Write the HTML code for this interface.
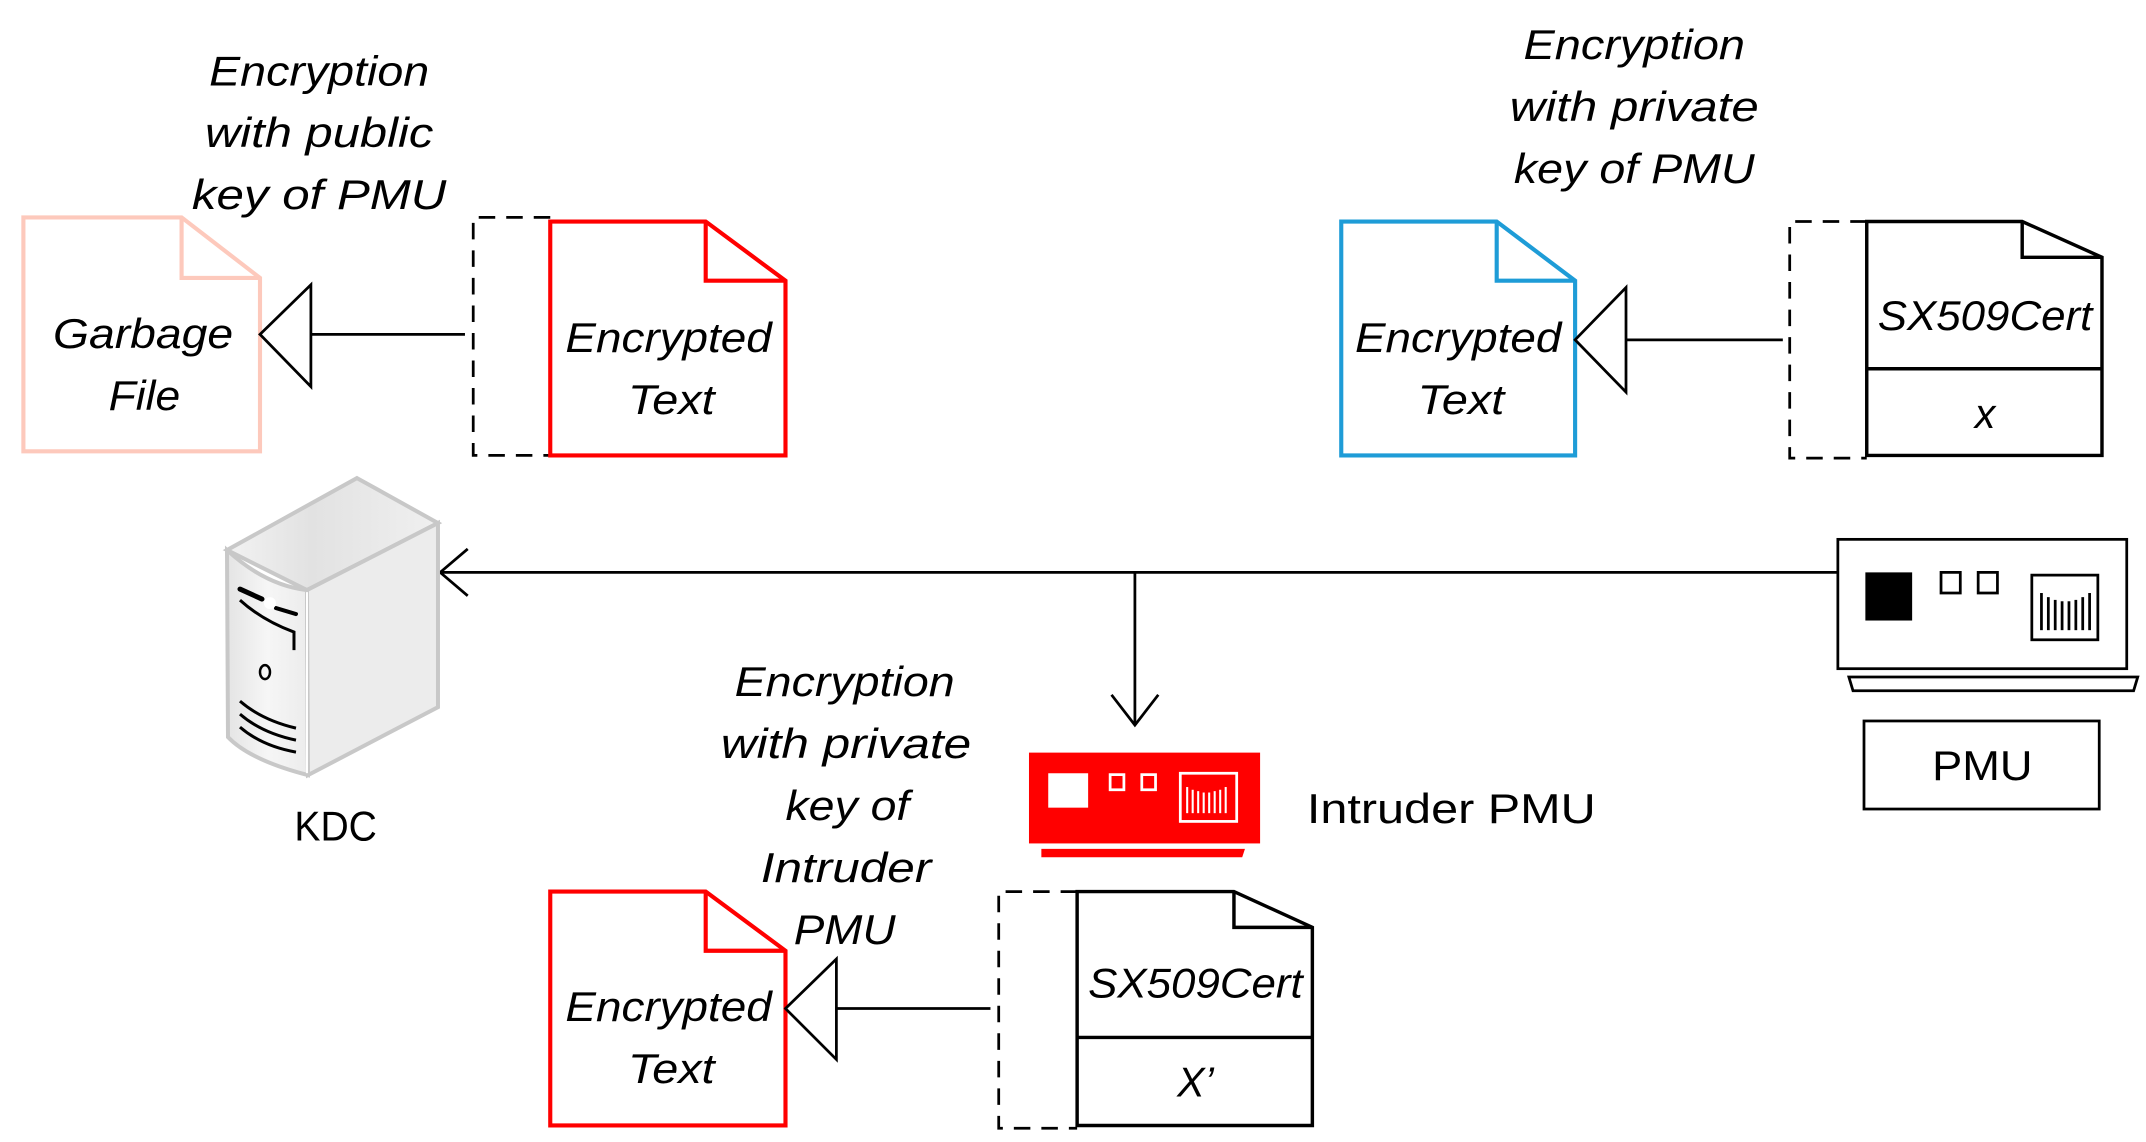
<!DOCTYPE html>
<html><head><meta charset="utf-8"><style>
html,body{margin:0;padding:0;background:#fff;}
svg{display:block;}
text{font-family:"Liberation Sans",sans-serif;font-size:30px;fill:#000;}
.i{font-style:italic;}
</style></head><body>
<svg width="2146" height="1142" viewBox="0 0 1560 830" preserveAspectRatio="none" xmlns="http://www.w3.org/2000/svg">
<defs>
<linearGradient id="g1" x1="0" y1="0" x2="1" y2="0"><stop offset="0" stop-color="#e4e4e4"/><stop offset="0.5" stop-color="#f6f6f6"/><stop offset="1" stop-color="#ececec"/></linearGradient>
<linearGradient id="g2" x1="0" y1="0" x2="1" y2="0"><stop offset="0" stop-color="#f2f2f2"/><stop offset="0.4" stop-color="#e2e2e2"/><stop offset="1" stop-color="#f0f0f0"/></linearGradient>
</defs>

<!-- Top-left labels -->
<g class="i" text-anchor="middle">
<text x="232" y="62" textLength="160" lengthAdjust="spacingAndGlyphs">Encryption</text>
<text x="232" y="107" textLength="166" lengthAdjust="spacingAndGlyphs">with public</text>
<text x="232" y="152" textLength="185" lengthAdjust="spacingAndGlyphs">key of  PMU</text>
</g>
<!-- Garbage file -->
<path d="M17,158 H132 L189,202 V328 H17 Z" fill="#fff" stroke="#fdc9bc" stroke-width="3"/>
<path d="M132,158 V202 H189" fill="none" stroke="#fdc9bc" stroke-width="3"/>
<text class="i" x="104" y="253" text-anchor="middle" textLength="131" lengthAdjust="spacingAndGlyphs">Garbage</text>
<text class="i" x="105" y="298" text-anchor="middle" textLength="52" lengthAdjust="spacingAndGlyphs">File</text>
<!-- arrow -->
<line x1="338" y1="243" x2="226" y2="243" stroke="#000" stroke-width="2"/>
<path d="M189,243 L226,207 V281 Z" fill="#fff" stroke="#000" stroke-width="2"/>
<!-- dashed bracket -->
<path d="M400,158 H344 V331 H400" fill="none" stroke="#000" stroke-width="2" stroke-dasharray="12,8"/>
<!-- Encrypted red -->
<path d="M400,161 H513 L571,204 V331 H400 Z" fill="#fff" stroke="#ff0000" stroke-width="3"/>
<path d="M513,161 V204 H571" fill="none" stroke="#ff0000" stroke-width="3"/>
<text class="i" x="486" y="256" text-anchor="middle" textLength="150" lengthAdjust="spacingAndGlyphs">Encrypted</text>
<text class="i" x="488" y="301" text-anchor="middle" textLength="63" lengthAdjust="spacingAndGlyphs">Text</text>

<!-- Top-right labels -->
<g class="i" text-anchor="middle">
<text x="1188" y="43" textLength="161" lengthAdjust="spacingAndGlyphs">Encryption</text>
<text x="1188" y="88" textLength="181" lengthAdjust="spacingAndGlyphs">with private</text>
<text x="1188" y="133" textLength="175" lengthAdjust="spacingAndGlyphs">key of PMU</text>
</g>
<path d="M975,161 H1088 L1145,204 V331 H975 Z" fill="#fff" stroke="#1e9cd7" stroke-width="3"/>
<path d="M1088,161 V204 H1145" fill="none" stroke="#1e9cd7" stroke-width="3"/>
<text class="i" x="1060" y="256" text-anchor="middle" textLength="150" lengthAdjust="spacingAndGlyphs">Encrypted</text>
<text class="i" x="1062" y="301" text-anchor="middle" textLength="63" lengthAdjust="spacingAndGlyphs">Text</text>
<line x1="1296" y1="247" x2="1182" y2="247" stroke="#000" stroke-width="2"/>
<path d="M1145,247 L1182,209 V285 Z" fill="#fff" stroke="#000" stroke-width="2"/>
<path d="M1357,161 H1301 V333 H1357" fill="none" stroke="#000" stroke-width="2" stroke-dasharray="12,8"/>
<path d="M1357,161 H1470 L1528,187 V331 H1357 Z" fill="#fff" stroke="#000" stroke-width="2.5"/>
<path d="M1470,161 V187 H1528" fill="none" stroke="#000" stroke-width="2.5"/>
<line x1="1357" y1="268" x2="1528" y2="268" stroke="#000" stroke-width="2.5"/>
<text class="i" x="1443" y="240" text-anchor="middle" textLength="156" lengthAdjust="spacingAndGlyphs">SX509Cert</text>
<text class="i" x="1443" y="311" text-anchor="middle">x</text>

<!-- Main connector -->
<line x1="320" y1="416" x2="1336" y2="416" stroke="#000" stroke-width="2"/>
<path d="M340,399 L320,416 L340,433" fill="none" stroke="#000" stroke-width="2"/>
<line x1="825" y1="416" x2="825" y2="527" stroke="#000" stroke-width="2"/>
<path d="M808,505 L825,527 L842,505" fill="none" stroke="#000" stroke-width="2"/>

<!-- KDC server (real coords scaled) -->
<g transform="scale(0.72690)">
<path d="M357,478 L438,523 L307,590 L227,550 Z" fill="url(#g2)" stroke="#c8c8c8" stroke-width="4"/>
<path d="M227,550 Q265,585 307,590 L308,775 Q250,760 228,737 Z" fill="url(#g1)" stroke="#c8c8c8" stroke-width="4"/>
<path d="M307,590 L438,523 L438,707 L308,775 Z" fill="#ececec" stroke="#c8c8c8" stroke-width="4"/>
<line x1="307" y1="592" x2="307" y2="773" stroke="#fff" stroke-width="2"/>
<path d="M240,589 L262,599" stroke="#000" stroke-width="5" stroke-linecap="round"/>
<path d="M276,608 L296,614" stroke="#000" stroke-width="4" stroke-linecap="round"/>
<circle cx="270" cy="603" r="6" fill="#fff"/>
<path d="M240,600 Q262,620 294,632 V650" fill="none" stroke="#000" stroke-width="3"/>
<ellipse cx="265" cy="672" rx="5" ry="7" fill="none" stroke="#000" stroke-width="2.5"/>
<path d="M240,701 Q262,720 296,728" fill="none" stroke="#000" stroke-width="3"/>
<path d="M240,714 Q262,733 296,740" fill="none" stroke="#000" stroke-width="3"/>
<path d="M240,727 Q262,746 296,752" fill="none" stroke="#000" stroke-width="3"/>
</g>
<text x="244" y="611" text-anchor="middle" textLength="60" lengthAdjust="spacingAndGlyphs">KDC</text>

<!-- PMU device -->
<rect x="1336" y="392" width="210" height="94" fill="#fff" stroke="#000" stroke-width="2"/>
<rect x="1356" y="416" width="34" height="35" fill="#000"/>
<rect x="1411" y="416" width="14" height="15" fill="none" stroke="#000" stroke-width="2"/>
<rect x="1438" y="416" width="14" height="15" fill="none" stroke="#000" stroke-width="2"/>
<rect x="1477" y="418" width="48" height="47" fill="none" stroke="#000" stroke-width="2"/>
<g stroke="#000" stroke-width="2">
<line x1="1484" y1="431" x2="1484" y2="458"/><line x1="1489" y1="434" x2="1489" y2="458"/><line x1="1494" y1="436" x2="1494" y2="458"/><line x1="1499" y1="437" x2="1499" y2="458"/><line x1="1504" y1="437" x2="1504" y2="458"/><line x1="1509" y1="436" x2="1509" y2="458"/><line x1="1514" y1="434" x2="1514" y2="458"/><line x1="1519" y1="431" x2="1519" y2="458"/>
</g>
<path d="M1344,492 H1554 L1551,502 H1347 Z" fill="#fff" stroke="#000" stroke-width="2"/>
<rect x="1355" y="524" width="171" height="64" fill="#fff" stroke="#000" stroke-width="2"/>
<text x="1441" y="567" text-anchor="middle" textLength="73" lengthAdjust="spacingAndGlyphs">PMU</text>

<!-- Intruder PMU -->
<rect x="748" y="547" width="168" height="66" fill="#ff0000"/>
<rect x="762" y="562" width="29" height="25" fill="#fff"/>
<rect x="807" y="563" width="10" height="11" fill="none" stroke="#fff" stroke-width="2"/>
<rect x="830" y="563" width="10" height="11" fill="none" stroke="#fff" stroke-width="2"/>
<rect x="858" y="562" width="41" height="35" fill="none" stroke="#fff" stroke-width="2"/>
<g stroke="#fff" stroke-width="1.5">
<line x1="863" y1="572" x2="863" y2="591"/><line x1="867" y1="574" x2="867" y2="591"/><line x1="871" y1="575" x2="871" y2="591"/><line x1="875" y1="576" x2="875" y2="591"/><line x1="879" y1="576" x2="879" y2="591"/><line x1="883" y1="575" x2="883" y2="591"/><line x1="887" y1="574" x2="887" y2="591"/><line x1="891" y1="572" x2="891" y2="591"/>
</g>
<path d="M757,617 H905 L903,623 H757 Z" fill="#ff0000"/>
<text x="950" y="598" textLength="210" lengthAdjust="spacingAndGlyphs">Intruder PMU</text>

<!-- Bottom labels -->
<g class="i" text-anchor="middle">
<text x="614" y="506" textLength="160" lengthAdjust="spacingAndGlyphs">Encryption</text>
<text x="615" y="551" textLength="182" lengthAdjust="spacingAndGlyphs">with private</text>
<text x="616" y="596" textLength="90" lengthAdjust="spacingAndGlyphs">key of</text>
<text x="615" y="641" textLength="124" lengthAdjust="spacingAndGlyphs">Intruder</text>
<text x="614" y="686" textLength="74" lengthAdjust="spacingAndGlyphs">PMU</text>
</g>
<path d="M400,648 H513 L571,691 V818 H400 Z" fill="#fff" stroke="#ff0000" stroke-width="3"/>
<path d="M513,648 V691 H571" fill="none" stroke="#ff0000" stroke-width="3"/>
<text class="i" x="486" y="742" text-anchor="middle" textLength="150" lengthAdjust="spacingAndGlyphs">Encrypted</text>
<text class="i" x="488" y="787" text-anchor="middle" textLength="63" lengthAdjust="spacingAndGlyphs">Text</text>
<line x1="720" y1="733" x2="608" y2="733" stroke="#000" stroke-width="2"/>
<path d="M571,733 L608,697 V770 Z" fill="#fff" stroke="#000" stroke-width="2"/>
<path d="M783,648 H726 V820 H783" fill="none" stroke="#000" stroke-width="2" stroke-dasharray="12,8"/>
<path d="M783,648 H897 L954,674 V818 H783 Z" fill="#fff" stroke="#000" stroke-width="2.5"/>
<path d="M897,648 V674 H954" fill="none" stroke="#000" stroke-width="2.5"/>
<line x1="783" y1="754" x2="954" y2="754" stroke="#000" stroke-width="2.5"/>
<text class="i" x="869" y="725" text-anchor="middle" textLength="156" lengthAdjust="spacingAndGlyphs">SX509Cert</text>
<text class="i" x="869" y="797" text-anchor="middle">X’</text>
</svg>
</body></html>
